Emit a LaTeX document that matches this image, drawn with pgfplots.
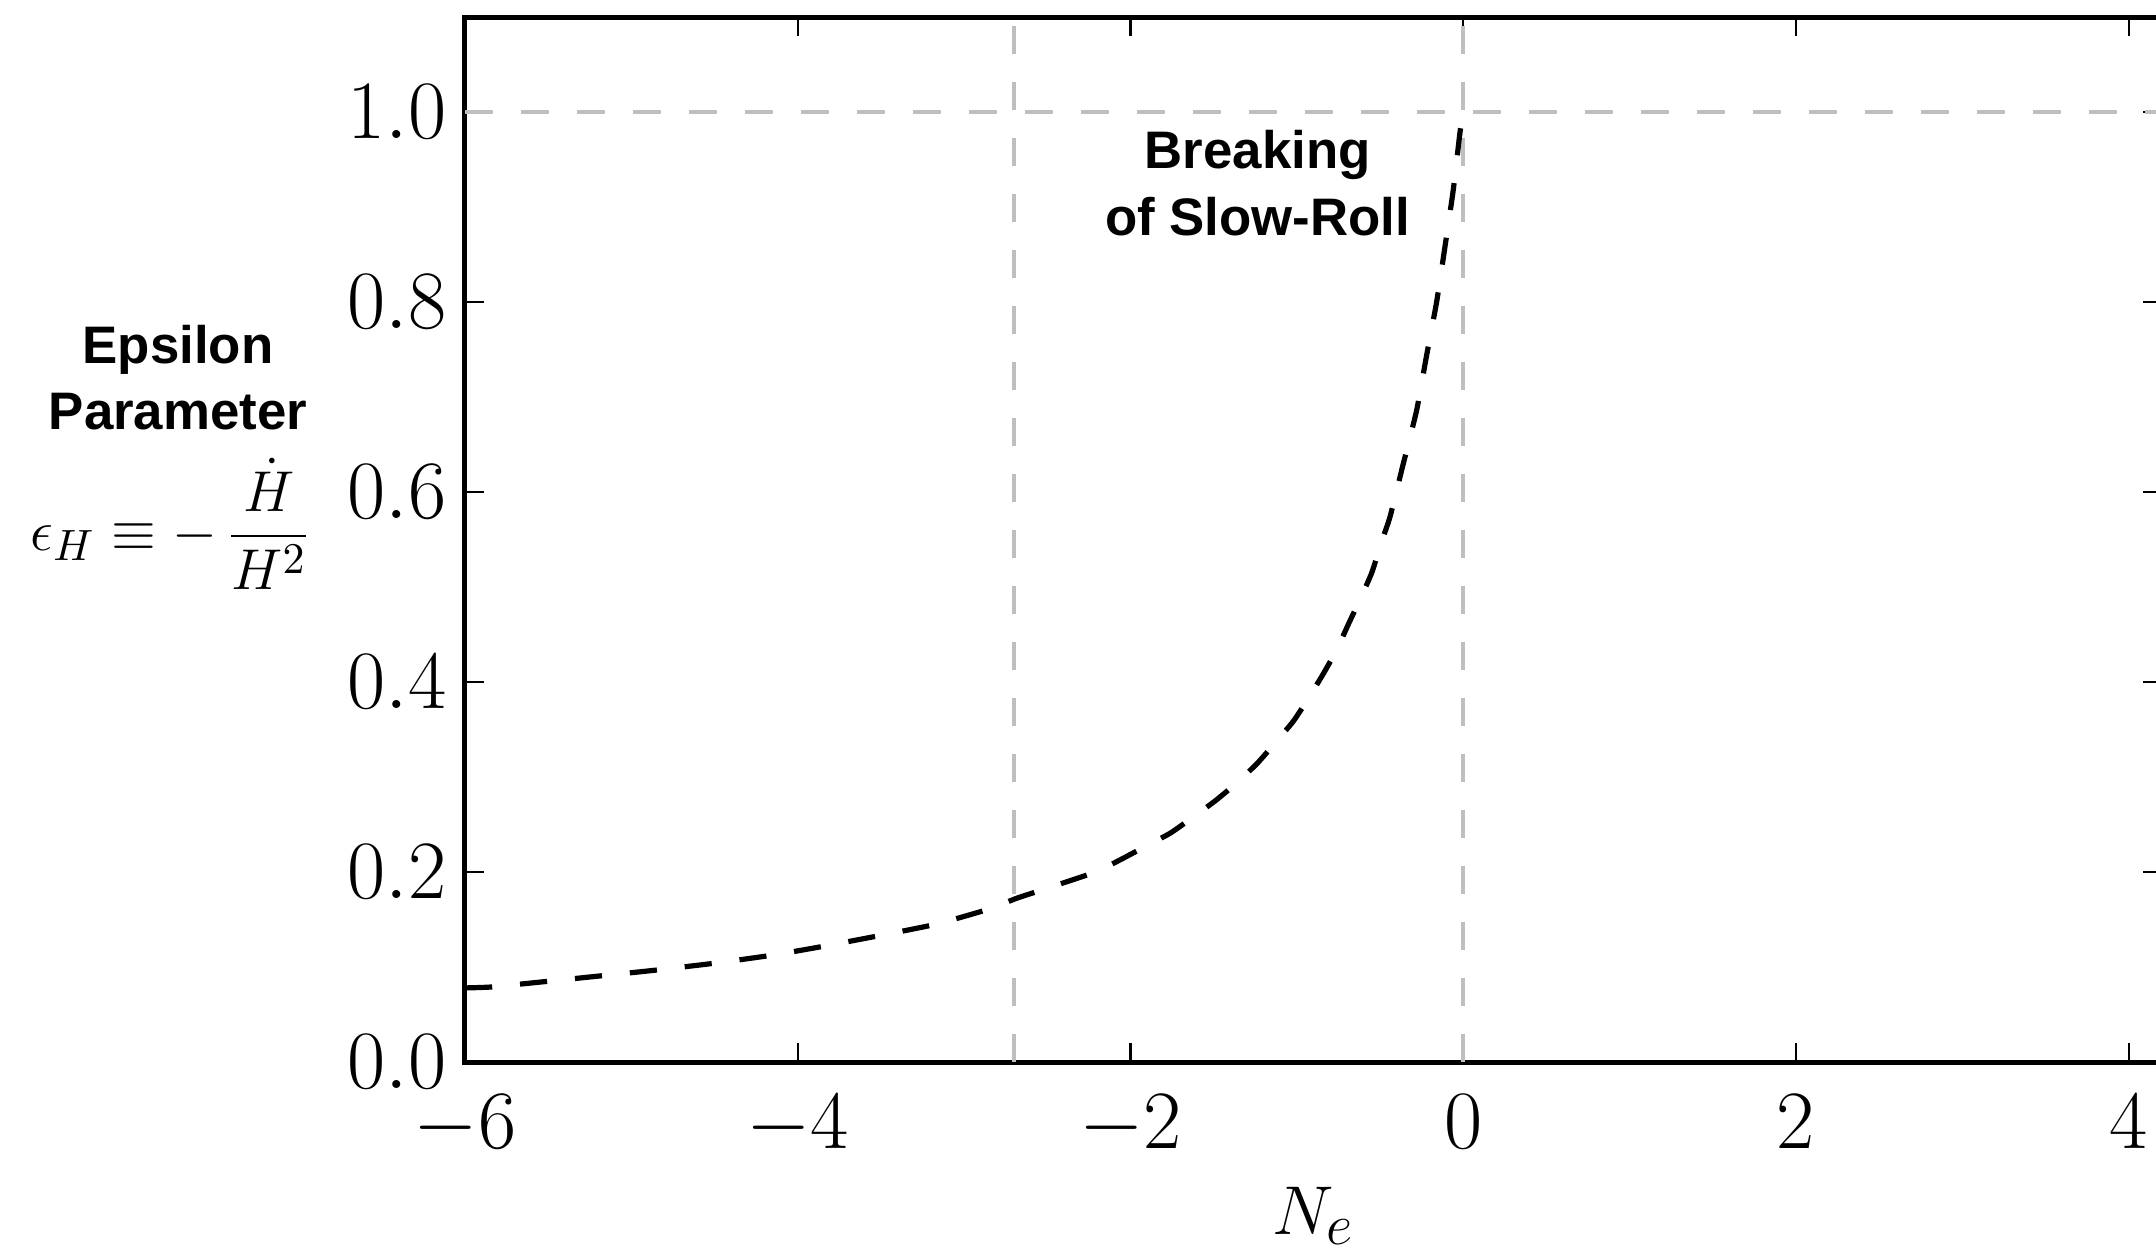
\documentclass[border=0pt]{standalone}
\usepackage{pgfplots}
\pgfplotsset{compat=1.18}
\usepackage{fontspec}
\newfontfamily\helv{Liberation Sans}
\definecolor{refgray}{RGB}{191,191,191}

\begin{document}
\begin{tikzpicture}
\begin{axis}[
  scale only axis,
  width=424.25pt, height=261.25pt,
  xmin=-6, xmax=4.2, ymin=0, ymax=1.1,
  xtick={-6,-4,-2,0,2,4},
  ytick={0,0.2,0.4,0.6,0.8,1.0},
  minor tick num=0,
  tick align=inside,
  major tick length=4.75pt,
  every tick/.style={black, line width=0.55pt},
  axis line style={line width=1.25pt},
  tick label style={font=\fontsize{20.5}{24}\selectfont},
  yticklabel style={/pgf/number format/fixed, /pgf/number format/fixed zerofill, /pgf/number format/precision=1},
  yticklabel style={anchor=east, inner sep=0pt, xshift=-4.5pt},
  xticklabel style={anchor=north, inner sep=0pt, yshift=-8pt},
  xlabel={$N_e$},
  xlabel style={font=\fontsize{19}{22}\selectfont, at={(axis description cs:0.5,0)}, anchor=base, yshift=-43pt},
  clip=false,
]
\addplot[refgray, line width=1pt, dash pattern=on 7pt off 7pt] coordinates {(-6,1.0) (4.2,1.0)};
\addplot[refgray, line width=1pt, dash pattern=on 7pt off 7pt] coordinates {(-2.7,0) (-2.7,1.1)};
\addplot[refgray, line width=1pt, dash pattern=on 7pt off 7pt] coordinates {(0,0) (0,1.1)};
\addplot[black, line width=1.3pt, dash pattern=on 6.8pt off 7pt, smooth, tension=0.3] coordinates {
(-6.00,0.078) (-5.84,0.079) (-5.50,0.085) (-5.00,0.094) (-4.84,0.097) (-4.50,0.104)
(-4.17,0.112) (-4.00,0.117) (-3.84,0.122) (-3.51,0.133) (-3.17,0.145) (-2.85,0.161)
(-2.69,0.172) (-2.50,0.183) (-2.21,0.200) (-2.06,0.213) (-1.91,0.227) (-1.76,0.241)
(-1.63,0.257) (-1.49,0.275) (-1.36,0.294) (-1.24,0.314) (-1.13,0.336) (-1.02,0.359)
(-0.93,0.383) (-0.84,0.409) (-0.76,0.434) (-0.69,0.461) (-0.62,0.487) (-0.55,0.515)
(-0.48,0.553) (-0.44,0.574) (-0.36,0.630) (-0.28,0.686) (-0.22,0.744) (-0.16,0.800)
(-0.11,0.858) (-0.06,0.918) (-0.02,0.978) (0.00,1.000)
};
\node[anchor=north, align=center, inner sep=0pt, font=\helv\bfseries\fontsize{13.2}{16.75}\selectfont]
  at (axis cs:-1.235,0.982) {Breaking\\of Slow-Roll};
\node[anchor=north, align=center, inner sep=0pt, xshift=-71.75pt, font=\helv\bfseries\fontsize{13.2}{16.5}\selectfont]
  at (axis cs:-6,0.776) {Epsilon\\Parameter};
\node[anchor=center, inner sep=0pt, xshift=-73.5pt, font=\fontsize{15.6}{18}\selectfont]
  at (axis cs:-6,0.566) {$\displaystyle \epsilon_H \equiv -\,\frac{\dot{H}}{H^2}$};
\coordinate (LL) at (rel axis cs:0,0);
\coordinate (UR) at (rel axis cs:1,1);
\end{axis}
\pgfresetboundingbox
\path ([shift={(-116.25pt,-49pt)}]LL) rectangle ([shift={(-1.5pt,4.25pt)}]UR);
\end{tikzpicture}
\end{document}
